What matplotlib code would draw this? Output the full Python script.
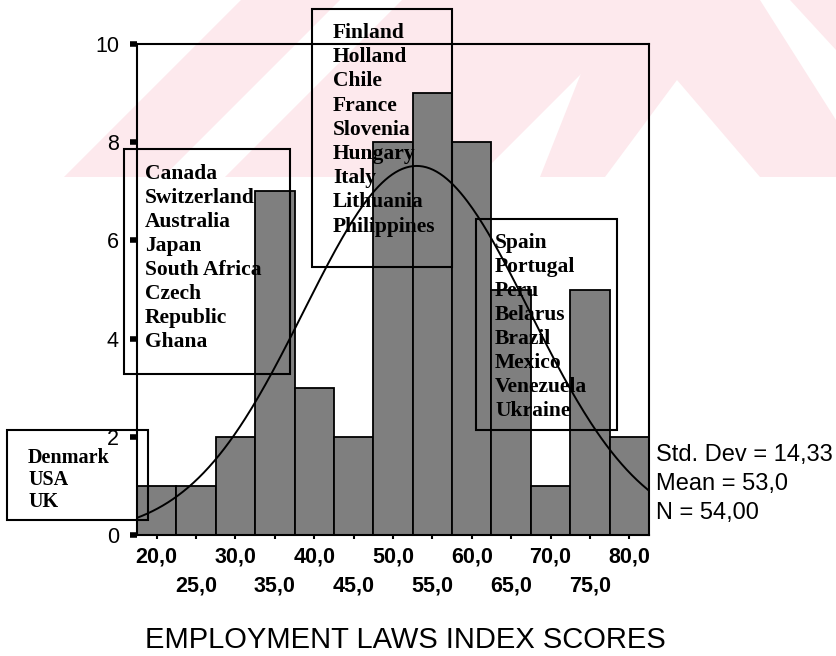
import numpy as np
import matplotlib
matplotlib.use("Agg")
from matplotlib import pyplot as plt
from matplotlib.patches import Rectangle, Polygon

# dados do histograma (classes de largura 5)
centros = [20, 25, 30, 35, 40, 45, 50, 55, 60, 65, 70, 75, 80]
contagens = [1, 1, 2, 7, 3, 2, 8, 9, 8, 5, 1, 5, 2]
largura = 5

media = 53.0
desvio = 14.33
n_total = 54

rotulos_x = ["20,0", "25,0", "30,0", "35,0", "40,0", "45,0", "50,0",
             "55,0", "60,0", "65,0", "70,0", "75,0", "80,0"]
ticks_y = [0, 2, 4, 6, 8, 10]

grupo1 = ["Denmark", "USA", "UK"]
grupo2 = ["Canada", "Switzerland", "Australia", "Japan", "South Africa",
          "Czech", "Republic", "Ghana"]
grupo3 = ["Finland", "Holland", "Chile", "France", "Slovenia", "Hungary",
          "Italy", "Lithuania", "Philippines"]
grupo4 = ["Spain", "Portugal", "Peru", "Belarus", "Brazil", "Mexico",
          "Venezuela", "Ukraine"]

W, H = 836, 656


def px(x, y):
    # pixel (origem no topo) -> fração da figura
    return (x / W, 1 - y / H)


fig = plt.figure(figsize=(W / 100, H / 100), dpi=100)
fig.patch.set_facecolor("white")

# marca d'água rosa ao fundo
rosa = "#fde9ed"
faixas = [
    [(64, 177), (163, 177), (340, 0), (241, 0)],
    [(225, 177), (478, 177), (655, 0), (402, 0)],
    [(540, 177), (605, 177), (677, 80), (760, 177), (836, 177), (836, 120), (760, 0), (610, 0)],
    [(790, 0), (836, 0), (836, 50)],
]
for f in faixas:
    fig.patches.append(Polygon([px(*p) for p in f], closed=True, facecolor=rosa,
                               edgecolor="none", transform=fig.transFigure, zorder=-5))

ax = fig.add_axes([137 / W, 1 - 535 / H, (649 - 137) / W, (535 - 44) / H])
ax.set_facecolor("none")

ax.bar(centros, contagens, width=largura, color="#7f7f7f", edgecolor="black",
       linewidth=1.3, zorder=2)

# curva normal ajustada (a partir da média e desvio informados)
xs = np.linspace(17.5, 82.5, 300)
ys = n_total * largura / (desvio * np.sqrt(2 * np.pi)) * np.exp(-0.5 * ((xs - media) / desvio) ** 2)
ax.plot(xs, ys, color="black", lw=1.4, zorder=3)

ax.set_xlim(17.5, 82.5)
ax.set_ylim(0, 10)
for s in ax.spines.values():
    s.set_linewidth(1.5)
    s.set_color("black")

ax.set_yticks(ticks_y)
ax.set_yticklabels([str(t) for t in ticks_y], fontsize=15.5, family="Liberation Sans")
ax.tick_params(axis="y", length=5, width=4, direction="out", pad=8)

ax.set_xticks(centros[::2])
ax.set_xticklabels(rotulos_x[::2], fontsize=15.5, fontweight="bold", family="Liberation Sans")
ax.set_xticks(centros[1::2], minor=True)
ax.set_xticklabels(rotulos_x[1::2], minor=True, fontsize=15.5, fontweight="bold",
                   family="Liberation Sans")
ax.tick_params(axis="x", which="major", length=3, width=1.5, pad=5)
ax.tick_params(axis="x", which="minor", length=3, width=1.5, pad=26)

fig.text(px(405, 640)[0], px(405, 640)[1], "EMPLOYMENT LAWS INDEX SCORES",
         ha="center", va="center", fontsize=21, family="Liberation Sans")

# estatísticas
stats = ["Std. Dev = 14,33", "Mean = 53,0", "N = 54,00"]
for i, s in enumerate(stats):
    x, y = px(656, 455 + i * 29)
    fig.text(x, y, s, ha="left", va="center", fontsize=17, family="Liberation Sans")


def caixa(x0, y0, x1, y1, nomes, tx, ty, passo=24, tam=15.5):
    fig.patches.append(Rectangle(px(x0, y1), (x1 - x0) / W, (y1 - y0) / H,
                                 fill=False, edgecolor="black", lw=1.5,
                                 transform=fig.transFigure, zorder=4))
    for i, nome in enumerate(nomes):
        x, y = px(tx, ty + i * passo)
        fig.text(x, y, nome, ha="left", va="center", fontsize=tam,
                 fontweight="bold", family="Liberation Serif", zorder=5)


caixa(7, 430, 148, 520, grupo1, 28, 458, 22, tam=14.5)
caixa(124, 149, 290, 374, grupo2, 145, 174, 24)
caixa(312, 9, 452, 267, grupo3, 333, 33, 24.2)
caixa(476, 219, 617, 430, grupo4, 495, 243, 24)

fig.savefig("out.png", dpi=100)
